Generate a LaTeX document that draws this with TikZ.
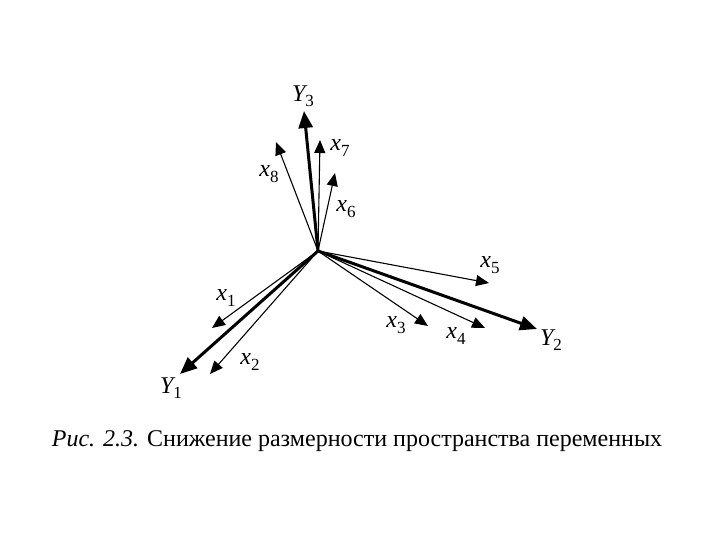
\documentclass[tikz,border=0pt]{standalone}
\usepackage{fontspec}
\setmainfont{Liberation Serif}
\usetikzlibrary{arrows.meta}
\newcommand{\vlab}[2]{{\itshape #1}\raisebox{-0.5ex}{\fontsize{17}{17}\selectfont #2}}
\begin{document}
\begin{tikzpicture}[x=1pt,y=-1pt,
  thinvec/.style={line width=1.1pt,draw=black,-{Triangle[length=13pt,width=11pt]}},
  thickvec/.style={line width=3pt,draw=black,-{Triangle[length=17pt,width=14pt]}},
  lab/.style={inner sep=0pt,font=\fontsize{24}{24}\selectfont}]
\useasboundingbox (0,0) rectangle (720,540);
\coordinate (O) at (318,251);
\coordinate (t1) at (212,328);
\coordinate (t2) at (210,374);
\coordinate (t3) at (428,326);
\coordinate (t4) at (485,328);
\coordinate (t5) at (489,283);
\coordinate (t6) at (335,173);
\coordinate (t7) at (320,140);
\coordinate (t8) at (276,142);
\coordinate (T1) at (180,374);
\coordinate (T2) at (537,329);
\coordinate (T3) at (304,111);
\draw[thinvec] (O) -- (t1);
\draw[thinvec] (O) -- (t2);
\draw[thinvec] (O) -- (t3);
\draw[thinvec] (O) -- (t4);
\draw[thinvec] (O) -- (t5);
\draw[thinvec] (O) -- (t6);
\draw[thinvec] (O) -- (t7);
\draw[thinvec] (O) -- (t8);
\draw[thickvec] (O) -- (T1);
\draw[thickvec] (O) -- (T2);
\draw[thickvec] (O) -- (T3);
\node[lab] (l1) at (226,298) {\vlab{x}{1}};
\node[lab] (l2) at (250,362) {\vlab{x}{2}};
\node[lab] (l3) at (396,325) {\vlab{x}{3}};
\node[lab] (l4) at (456,336) {\vlab{x}{4}};
\node[lab] (l5) at (490,265) {\vlab{x}{5}};
\node[lab] (l6) at (346,209) {\vlab{x}{6}};
\node[lab] (l7) at (340,148) {\vlab{x}{7}};
\node[lab] (l8) at (269,174) {\vlab{x}{8}};
\node[lab] (L1) at (171,388) {\vlab{Y}{1}};
\node[lab] (L2) at (551,340) {\vlab{Y}{2}};
\node[lab] (L3) at (303,96) {\vlab{Y}{3}};
\node[inner sep=0pt,font=\fontsize{24}{24}\selectfont] (cap) at (357,441) {\textit{Рис. 2.3.} Снижение размерности пространства переменных};
\end{tikzpicture}
\end{document}
